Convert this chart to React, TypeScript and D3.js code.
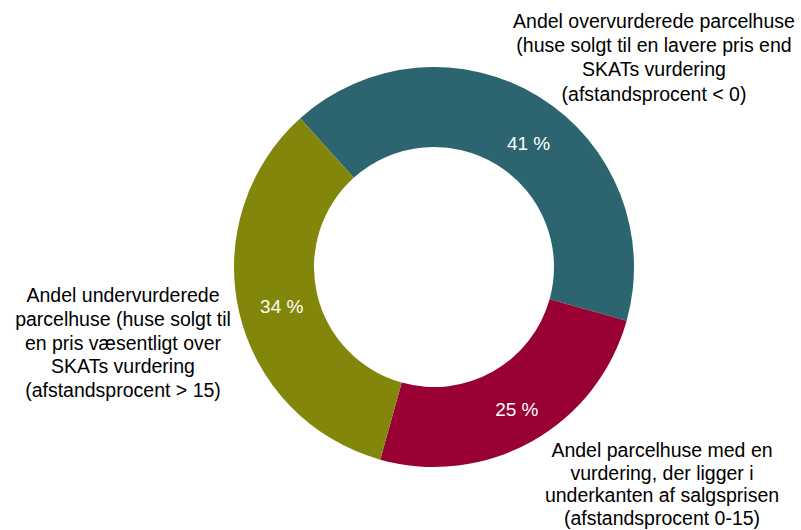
import React from 'react';
import { pie, arc } from 'd3';

const categories = ['overvurderede', 'underkant', 'undervurderede'];
const values = [41, 25, 34];
const colors = ['#2c6470', '#990033', '#82870b'];
const labelLines = [
  ['Andel overvurderede parcelhuse', '(huse solgt til en lavere pris end', 'SKATs vurdering', '(afstandsprocent < 0)'],
  ['Andel parcelhuse med en', 'vurdering, der ligger i', 'underkanten af salgsprisen', '(afstandsprocent 0-15)'],
  ['Andel undervurderede', 'parcelhuse (huse solgt til', 'en pris væsentligt over', 'SKATs vurdering', '(afstandsprocent > 15)'],
];
// anchor of the outside category labels (center x, first baseline, line step)
const labelAnchors = [
  [654, 28, 24.2],
  [662, 457, 22.7],
  [123, 302, 23.8],
];

const W = 801;
const H = 530;
const cx = 434;
const cy = 267;
const outerR = 200;
const innerR = 120;
const startAngle = -42 * Math.PI / 180;

export default function App() {
  const pieGen = pie<number>().sort(null).startAngle(startAngle).endAngle(startAngle + 2 * Math.PI);
  const slices = pieGen(values);
  const ringArc = arc<any>().innerRadius(innerR).outerRadius(outerR);
  const labelArc = arc<any>().innerRadius(158).outerRadius(163);
  const font = '"Liberation Sans", Arial, sans-serif';

  return (
    <svg width={W} height={H} style={{ position: 'absolute', left: 0, top: 0, background: '#fff' }} fontFamily={font}>
      <g transform={`translate(${cx},${cy})`}>
        {slices.map((s, i) => (
          <path key={categories[i]} d={ringArc(s) || ''} fill={colors[i]} />
        ))}
        {slices.map((s, i) => {
          const [x, y] = labelArc.centroid(s);
          return (
            <text key={'v' + i} x={x + (i === 0 ? 10 : 4)} y={y + (i === 0 ? 14 : 4)} fill="#fff" fontSize={19}
              textAnchor="middle" dominantBaseline="middle">
              {values[i]} %
            </text>
          );
        })}
      </g>
      {labelLines.map((lines, i) => (
        <text key={'l' + i} fontSize={19.5} fill="#000" textAnchor="middle">
          {lines.map((ln, j) => (
            <tspan key={j} x={labelAnchors[i][0]} y={labelAnchors[i][1] + j * labelAnchors[i][2]}>{ln}</tspan>
          ))}
        </text>
      ))}
    </svg>
  );
}
